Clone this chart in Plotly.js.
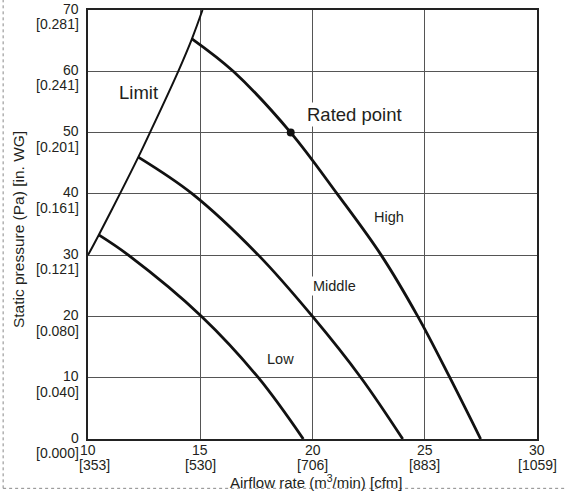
<!DOCTYPE html>
<html>
<head>
<meta charset="utf-8">
<script src="https://cdn.plot.ly/plotly-3.0.1.min.js"></script>
<style>html,body{margin:0;padding:0;background:#fff;}#chart{width:565px;height:491px;}</style>
</head>
<body>
<div id="chart"></div>
<script>
// Data
const limitX = [10, 10.48, 11.42, 12.24, 12.76, 14.02, 14.63, 15.1];
const limitY = [30, 33.3, 40, 46, 50, 60, 65.3, 70];
const highX = [14.63, 16.47, 19.03, 21.1, 23.06, 24.69, 26.12, 27.49];
const highY = [65.3, 60, 50, 40, 30, 20, 10, 0];
const middleX = [12.24, 14.65, 17.59, 20.0, 22.16, 24.02];
const middleY = [46, 40, 30, 20, 10, 0];
const lowX = [10.48, 11.8, 15.06, 17.59, 19.59];
const lowY = [33.3, 30, 20, 10, 0];
const ratedX = [19.03];
const ratedY = [50];

const xTickVals = [10, 15, 20, 25, 30];
const xTickMain = ['10', '15', '20', '25', '30'];
const xTickSub = ['[353]', '[530]', '[706]', '[883]', '[1059]'];
const yTickVals = [0, 10, 20, 30, 40, 50, 60, 70];
const yTickMain = ['0', '10', '20', '30', '40', '50', '60', '70'];
const yTickSub = ['[0.000]', '[0.040]', '[0.080]', '[0.121]', '[0.161]', '[0.201]', '[0.241]', '[0.281]'];

const FAM = 'Liberation Sans, Arial, sans-serif';
const TXT = '#231f20';
const f = (s) => ({family: FAM, size: s, color: TXT});

const curveLine = {color: '#111', width: 2.8, shape: 'spline', smoothing: 1};
const traces = [
  {x: limitX, y: limitY, mode: 'lines', line: {color: '#111', width: 2, shape: 'spline', smoothing: 1}, hoverinfo: 'skip'},
  {x: highX, y: highY, mode: 'lines', line: curveLine, hoverinfo: 'skip'},
  {x: middleX, y: middleY, mode: 'lines', line: curveLine, hoverinfo: 'skip'},
  {x: lowX, y: lowY, mode: 'lines', line: curveLine, hoverinfo: 'skip'},
  {x: ratedX, y: ratedY, mode: 'markers', marker: {color: '#111', size: 8}, hoverinfo: 'skip'}
];

const TS = 14;
const annotations = [];
// x tick labels (two rows)
xTickVals.forEach((v, i) => {
  annotations.push({x: v, xref: 'x', y: 0, yref: 'paper', text: xTickMain[i], showarrow: false,
    xanchor: 'center', yanchor: 'middle', yshift: -10.5, font: f(TS), borderpad: 0});
  annotations.push({x: v, xref: 'x', y: 0, yref: 'paper', text: xTickSub[i], showarrow: false,
    xanchor: 'center', yanchor: 'middle', yshift: -26.2, xshift: i === 0 ? 6 : 0, font: f(TS), borderpad: 0});
});
// y tick labels (two rows)
yTickVals.forEach((v, i) => {
  annotations.push({x: 0, xref: 'paper', y: v, yref: 'y', text: yTickMain[i], showarrow: false,
    xanchor: 'right', yanchor: 'middle', xshift: -8, yshift: 1.5, font: f(TS), borderpad: 0});
  annotations.push({x: 0, xref: 'paper', y: v, yref: 'y', text: yTickSub[i], showarrow: false,
    xanchor: 'right', yanchor: 'middle', xshift: -8, yshift: -14.2, font: f(TS), borderpad: 0});
});
// axis titles
annotations.push({x: 0.508, xref: 'paper', y: 0, yref: 'paper', text: 'Airflow rate (m<sup>3</sup>/min) [cfm]',
  showarrow: false, xanchor: 'center', yanchor: 'middle', yshift: -42.5, font: f(15), borderpad: 0});
annotations.push({x: 0, xref: 'paper', y: 0.487, yref: 'paper', text: 'Static pressure (Pa) [in. WG]',
  showarrow: false, xanchor: 'center', yanchor: 'middle', xshift: -70, textangle: -90, font: f(15.5), borderpad: 0});
// curve labels
annotations.push({x: 12.27, y: 56.6, text: 'Limit', showarrow: false, font: f(18.5)});
annotations.push({x: 21.87, y: 53.0, text: 'Rated point', showarrow: false, font: f(18.5), bgcolor: '#fff'});
annotations.push({x: 23.39, y: 36.2, text: 'High', showarrow: false, font: f(14.5)});
annotations.push({x: 20.99, y: 24.9, text: 'Middle', showarrow: false, font: f(14.5), bgcolor: '#fff'});
annotations.push({x: 18.59, y: 13.0, text: 'Low', showarrow: false, font: f(14.5)});

const layout = {
  width: 565, height: 491,
  margin: {l: 88, r: 28, t: 10, b: 52, pad: 0},
  paper_bgcolor: '#fff', plot_bgcolor: '#fff',
  showlegend: false,
  font: f(14),
  xaxis: {
    range: [10, 30], tickvals: xTickVals, showticklabels: false,
    showgrid: true, gridcolor: '#555', gridwidth: 1,
    zeroline: false, showline: true, linecolor: '#222', linewidth: 2, mirror: true,
    ticks: '', fixedrange: true
  },
  yaxis: {
    range: [0, 70], tickvals: yTickVals, showticklabels: false,
    showgrid: true, gridcolor: '#555', gridwidth: 1,
    zeroline: false, showline: true, linecolor: '#222', linewidth: 2, mirror: true,
    ticks: '', fixedrange: true
  },
  annotations: annotations,
  shapes: [
    {type: 'line', xref: 'paper', yref: 'paper', x0: -0.189, x1: -0.189, y0: -0.115, y1: 1.03, line: {color: '#888', width: 1, dash: 'dot'}},
    {type: 'line', xref: 'paper', yref: 'paper', x0: -0.189, x1: 1.07, y0: -0.115, y1: -0.115, line: {color: '#888', width: 1, dash: 'dot'}}
  ]
};

Plotly.newPlot('chart', traces, layout, {staticPlot: true, displayModeBar: false});
</script>
</body>
</html>
